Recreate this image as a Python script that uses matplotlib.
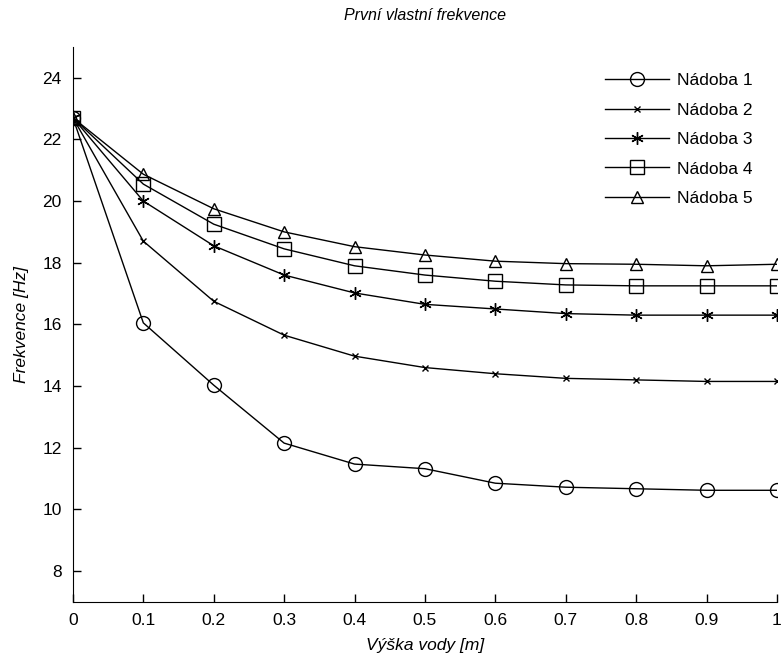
import matplotlib
matplotlib.use("Agg")
import matplotlib.pyplot as plt

x = [0, 0.1, 0.2, 0.3, 0.4, 0.5, 0.6, 0.7, 0.8, 0.9, 1.0]
n1 = [22.7, 16.05, 14.03, 12.15, 11.47, 11.32, 10.85, 10.72, 10.67, 10.62, 10.62]
n2 = [22.7, 18.7, 16.75, 15.65, 14.97, 14.6, 14.4, 14.25, 14.2, 14.15, 14.15]
n3 = [22.7, 20.0, 18.55, 17.6, 17.02, 16.65, 16.5, 16.35, 16.3, 16.3, 16.3]
n4 = [22.7, 20.55, 19.25, 18.45, 17.9, 17.6, 17.4, 17.28, 17.25, 17.25, 17.25]
n5 = [22.7, 20.87, 19.75, 19.0, 18.52, 18.25, 18.05, 17.97, 17.95, 17.9, 17.95]
labels = ["Nádoba 1", "Nádoba 2", "Nádoba 3", "Nádoba 4", "Nádoba 5"]
xticks = [0, 0.1, 0.2, 0.3, 0.4, 0.5, 0.6, 0.7, 0.8, 0.9, 1]
xticklabels = ["0", "0.1", "0.2", "0.3", "0.4", "0.5", "0.6", "0.7", "0.8", "0.9", "1"]
yticks = [8, 10, 12, 14, 16, 18, 20, 22, 24]

plt.rcParams['font.family'] = ['Liberation Sans', 'DejaVu Sans']

fig = plt.figure(figsize=(7.84, 6.6), dpi=100)
ax = fig.add_axes([0.093, 0.088, 0.898, 0.841])

asterisk = (6, 2, 0)
series = [(n1, 'o', 10), (n2, 'x', 5), (n3, asterisk, 9), (n4, 's', 9.5), (n5, '^', 9)]
for (ys, m, ms), lab in zip(series, labels):
    ax.plot(x, ys, color='black', lw=1, marker=m, markersize=ms,
            markerfacecolor='none', markeredgecolor='black', markeredgewidth=1,
            label=lab)

ax.set_xlim(0, 1)
ax.set_ylim(7, 25)
ax.set_xticks(xticks)
ax.set_xticklabels(xticklabels)
ax.set_yticks(yticks)
ax.tick_params(direction='in', length=6, labelsize=12.5, width=1, pad=8)
for s in ['top', 'right']:
    ax.spines[s].set_visible(False)
ax.set_title("První vlastní frekvence", fontstyle='italic', fontsize=11.5, pad=19)
ax.set_xlabel("Výška vody [m]", fontstyle='italic', fontsize=12.5, labelpad=7)
ax.set_ylabel("Frekvence [Hz]", fontstyle='italic', fontsize=12.5, labelpad=10)
leg = ax.legend(loc='upper right', frameon=False, fontsize=12.5, handlelength=3.7,
                labelspacing=0.82, bbox_to_anchor=(0.975, 0.965), handletextpad=0.45,
                borderaxespad=0)

fig.savefig("out.png", dpi=100)
